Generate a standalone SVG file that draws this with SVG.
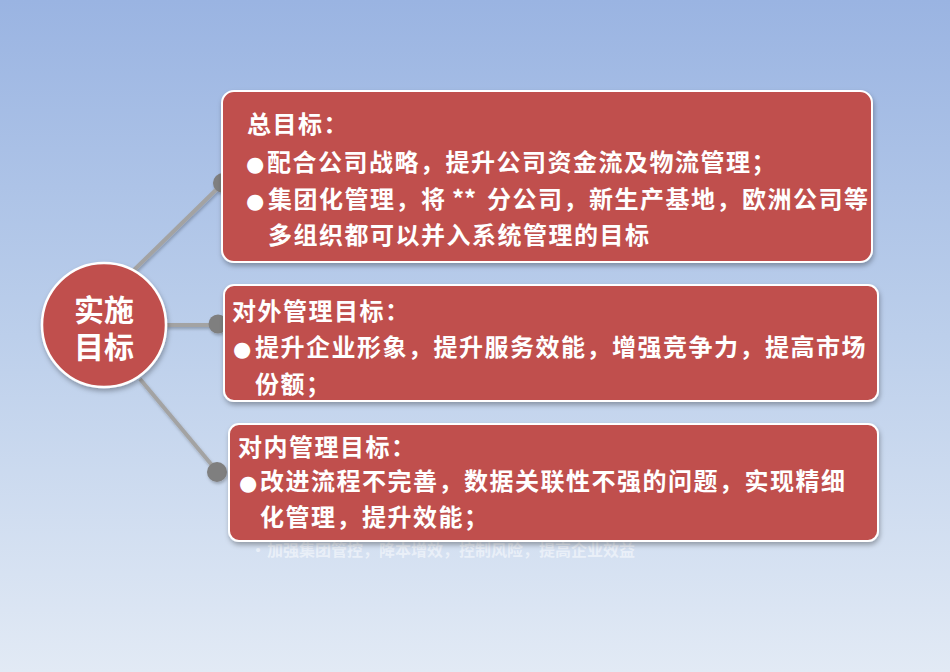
<svg xmlns="http://www.w3.org/2000/svg" width="950" height="672" viewBox="0 0 950 672">
  <defs>
    <linearGradient id="bg" x1="0" y1="0" x2="0" y2="1">
      <stop offset="0" stop-color="#9ab4e2"/>
      <stop offset="0.5" stop-color="#bccfeb"/>
      <stop offset="1" stop-color="#e2eaf5"/>
    </linearGradient>
    <filter id="sh" x="-10%" y="-10%" width="120%" height="130%">
      <feDropShadow dx="1" dy="3" stdDeviation="2.5" flood-color="#000" flood-opacity="0.3"/>
    </filter>
    <filter id="lsh" x="-20%" y="-20%" width="140%" height="140%">
      <feDropShadow dx="1" dy="2" stdDeviation="1.5" flood-color="#000" flood-opacity="0.25"/>
    </filter>
  </defs>
  <style>
    .box { fill: #c0504d; stroke: #ffffff; stroke-width: 2; }
    .t { font-family: "Noto Sans CJK SC", "Noto Sans", sans-serif; font-weight: bold; fill: #ffffff; font-size: 24px; letter-spacing: 1.5px; }
    .b { font-family: "DejaVu Sans", sans-serif; fill: #ffffff; font-size: 21px; }
    .big { font-size: 30px; letter-spacing: 0; }
    .faint { font-family: "Noto Sans CJK SC", "Noto Sans", sans-serif; font-weight: bold; fill: #ffffff; fill-opacity: 0.5; font-size: 16px; }
    .line { stroke: #a3a3a3; stroke-width: 4; fill: none; }
    .dot { fill: #7f7f7f; }
  </style>
  <rect x="0" y="0" width="950" height="672" fill="url(#bg)"/>

  <g id="connectors" filter="url(#lsh)">
    <line class="line" x1="134" y1="270" x2="222" y2="184"/>
    <line class="line" x1="165" y1="325" x2="218" y2="325"/>
    <line class="line" x1="140" y1="379" x2="216" y2="470"/>
    <circle class="dot" cx="223" cy="183" r="10"/>
    <circle class="dot" cx="218" cy="324" r="9.5"/>
    <circle class="dot" cx="217" cy="472" r="10"/>
  </g>

  <text class="faint" x="250" y="556">•<tspan x="267">加强集团管控，降本增效，控制风险，提高企业效益</tspan></text>

  <g id="center">
    <circle cx="104" cy="325" r="62" fill="#c0504d" stroke="#ffffff" stroke-width="2.5" filter="url(#sh)"/>
    <text class="t big" text-anchor="middle"><tspan x="104" y="321">实施</tspan><tspan x="104" y="358">目标</tspan></text>
  </g>

  <g id="box1">
    <rect class="box" x="222" y="91" width="650" height="171" rx="12" filter="url(#sh)"/>
    <text class="t" x="247" y="133">总目标：</text>
    <text class="b" x="246" y="171">●</text>
    <text class="t" x="267" y="171">配合公司战略，提升公司资金流及物流管理；</text>
    <text class="b" x="246" y="208">●</text>
    <text class="t" x="268" y="208">集团化管理，将<tspan letter-spacing="0"> ** </tspan><tspan x="487">分公司，新生产基地，欧洲公司等</tspan></text>
    <text class="t" x="268" y="244">多组织都可以并入系统管理的目标</text>
  </g>

  <g id="box2">
    <rect class="box" x="224" y="285" width="654" height="116" rx="10" filter="url(#sh)"/>
    <text class="t" x="232" y="320">对外管理目标：</text>
    <text class="b" x="233" y="356">●</text>
    <text class="t" x="255" y="356">提升企业形象，提升服务效能，增强竞争力，提高市场</text>
    <text class="t" x="255" y="393">份额；</text>
  </g>

  <g id="box3">
    <rect class="box" x="229" y="424" width="649" height="117" rx="10" filter="url(#sh)"/>
    <text class="t" x="238" y="456">对内管理目标：</text>
    <text class="b" x="239" y="490">●</text>
    <text class="t" x="260" y="490">改进流程不完善，数据关联性不强的问题，实现精细</text>
    <text class="t" x="260" y="526">化管理，提升效能；</text>
  </g>
</svg>
